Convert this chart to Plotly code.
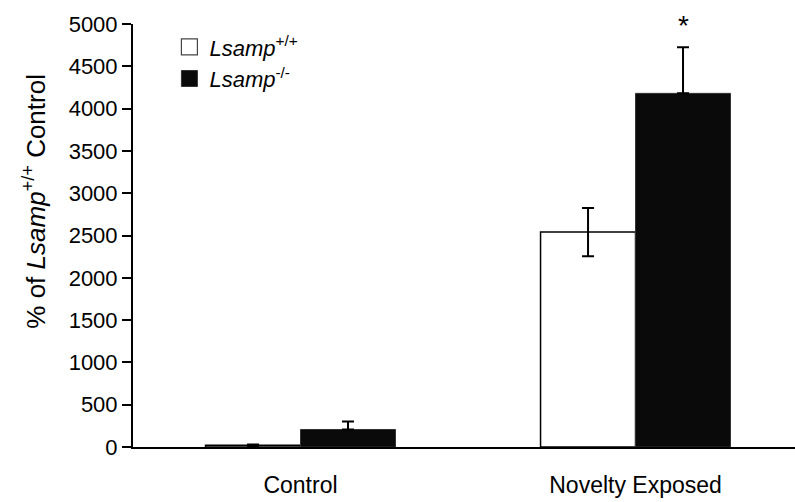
import plotly.graph_objects as go

categories = ["Control", "Novelty Exposed"]
wt_values = [20, 2540]
wt_errors = [10, 285]
ko_values = [207, 4180]
ko_errors = [95, 545]
ko_errors_minus = [0, 0]
y_ticks = [0, 500, 1000, 1500, 2000, 2500, 3000, 3500, 4000, 4500, 5000]
wt_name = "<i>Lsamp</i><sup>+/+</sup>"
ko_name = "<i>Lsamp</i><sup>-/-</sup>"
y_title = "% of <i>Lsamp</i><sup>+/+</sup> Control"

FONT = "Arial, Liberation Sans, sans-serif"

fig = go.Figure()
fig.add_trace(go.Bar(
    x=categories, y=wt_values, name=wt_name, showlegend=False,
    marker=dict(color="white", line=dict(color="black", width=1.5)),
    error_y=dict(type="data", array=wt_errors, color="black", thickness=2, width=6),
))
fig.add_trace(go.Bar(
    x=categories, y=ko_values, name=ko_name, showlegend=False,
    marker=dict(color="#0a0a0a", line=dict(color="#333333", width=1)),
    error_y=dict(type="data", array=ko_errors, arrayminus=ko_errors_minus,
                 symmetric=False, color="black", thickness=2, width=6),
))
# legend entries with larger square swatches
fig.add_trace(go.Scatter(
    x=[None], y=[None], mode="markers", name=wt_name,
    marker=dict(symbol="square", size=16, color="white", line=dict(color="#444", width=1.2)),
))
fig.add_trace(go.Scatter(
    x=[None], y=[None], mode="markers", name=ko_name,
    marker=dict(symbol="square", size=16, color="#0a0a0a", line=dict(color="#333", width=1)),
))

fig.add_annotation(
    x=categories[1], y=ko_values[1] + ko_errors[1], xshift=48, yshift=4,
    text="*", showarrow=False, yanchor="bottom",
    font=dict(family=FONT, size=28, color="black"),
)

# y-axis title (placed as annotation to match its off-centre position)
fig.add_annotation(
    xref="paper", yref="paper", x=-0.148, y=0.58, xanchor="center", yanchor="middle",
    text=y_title, textangle=-90, showarrow=False,
    font=dict(family=FONT, size=26, color="black"),
)

fig.update_layout(
    width=795, height=502,
    margin=dict(l=133, r=0, t=24, b=55),
    paper_bgcolor="white", plot_bgcolor="white",
    barmode="group", bargap=0.433, bargroupgap=0,
    font=dict(family=FONT, color="black"),
    showlegend=True,
    legend=dict(
        x=0.055, y=0.995, xanchor="left", yanchor="top",
        font=dict(family=FONT, size=22, color="black"),
        bgcolor="rgba(0,0,0,0)", tracegroupgap=0, itemwidth=30,
        itemsizing="trace",
    ),
    xaxis=dict(
        range=[-0.5, 1.476], showline=True, linecolor="black", linewidth=2,
        ticks="", showgrid=False, zeroline=False, automargin=False,
        ticklabelstandoff=16,
        tickfont=dict(family=FONT, size=23, color="black"),
    ),
    yaxis=dict(
        range=[0, 5000], tickvals=y_ticks, showline=True, linecolor="black",
        linewidth=2, ticks="outside", ticklen=9, tickwidth=2, tickcolor="black",
        showgrid=False, zeroline=False, automargin=False,
        tickfont=dict(family=FONT, size=22, color="black"),
    ),
)

fig.write_html("out.html", config={"displayModeBar": False},
               post_script="document.body.style.margin='0';")
